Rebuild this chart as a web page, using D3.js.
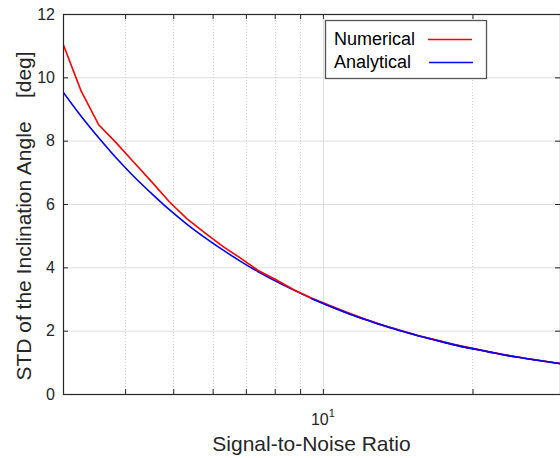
<!DOCTYPE html>
<html>
<head>
<meta charset="utf-8">
<script src="https://cdn.jsdelivr.net/npm/d3@7"></script>
<style>
	body { margin: 0; background: #fff; }
	svg { display: block; font-family: "Liberation Sans", Arial, sans-serif; }
</style>
</head>
<body>
<div id="chart"></div>
<script>
// signal-to-noise ratio samples (log spaced, 3 .. 30)
var snr = [3.00, 3.26, 3.54, 3.84, 4.17, 4.53, 4.91, 5.33, 5.79, 6.29, 6.83, 7.41, 8.05, 8.74, 9.48,
	10.30, 11.18, 12.14, 13.18, 14.31, 15.53, 16.86, 18.31, 19.88, 21.58, 23.43, 25.44, 27.62, 30.00];
var numerical = [11.06, 9.58, 8.50, 7.93, 7.31, 6.69, 6.07, 5.53, 5.09, 4.66, 4.29, 3.90, 3.61, 3.29, 3.03,
	2.80, 2.58, 2.37, 2.18, 2.01, 1.85, 1.71, 1.57, 1.45, 1.33, 1.23, 1.13, 1.05, 0.96];
var analytical = [9.54, 8.78, 8.09, 7.45, 6.86, 6.32, 5.82, 5.36, 4.94, 4.55, 4.19, 3.86, 3.56, 3.28, 3.02,
	2.78, 2.56, 2.36, 2.17, 2.00, 1.84, 1.70, 1.56, 1.44, 1.33, 1.22, 1.13, 1.04, 0.96];
var xTicks = [4, 5, 6, 7, 8, 9, 10, 20, 30];
var xGridMinor = [4, 5, 6, 7, 8, 9, 20];
var yTicks = [0, 2, 4, 6, 8, 10, 12];
var seriesNames = ["Numerical", "Analytical"];
var seriesColors = ["#ff0000", "#0000ff"];

var W = 560, H = 458;
var m = {left: 63, right: 560, top: 14, bottom: 394};
var axisColor = "#262626", gridColor = "#dfdfdf";

var svg = d3.select("#chart").append("svg").attr("width", W).attr("height", H);

var x = d3.scaleLog().domain([3, 30]).range([m.left, m.right]);
var y = d3.scaleLinear().domain([0, 12]).range([m.bottom, m.top]);

var defs = svg.append("defs");
defs.append("clipPath").attr("id", "plotClip").append("rect")
		.attr("x", m.left).attr("y", m.top)
		.attr("width", m.right - m.left).attr("height", m.bottom - m.top);

// grid
var grid = svg.append("g").attr("class", "grid");
grid.selectAll("line.ygrid").data(yTicks.slice(1, -1)).enter().append("line")
		.attr("class", "ygrid")
		.attr("x1", m.left).attr("x2", m.right)
		.attr("y1", function(d) { return y(d) + 0.5; })
		.attr("y2", function(d) { return y(d) + 0.5; })
		.style("stroke", gridColor).style("stroke-width", 1);
grid.selectAll("line.xminor").data(xGridMinor).enter().append("line")
		.attr("class", "xminor")
		.attr("x1", function(d) { return Math.round(x(d)) + 0.5; })
		.attr("x2", function(d) { return Math.round(x(d)) + 0.5; })
		.attr("y1", m.top).attr("y2", m.bottom)
		.style("stroke", "#d4d4d4").style("stroke-width", 1)
		.style("stroke-dasharray", "1,2");
grid.append("line")
		.attr("x1", Math.round(x(10)) + 0.5).attr("x2", Math.round(x(10)) + 0.5)
		.attr("y1", m.top).attr("y2", m.bottom)
		.style("stroke", gridColor).style("stroke-width", 1);

// curves
var line = d3.line()
		.x(function(d) { return x(d[0]); })
		.y(function(d) { return y(d[1]); });
var plot = svg.append("g").attr("clip-path", "url(#plotClip)");
plot.append("path")
		.datum(d3.zip(snr, analytical))
		.attr("d", line.curve(d3.curveMonotoneX))
		.style("fill", "none").style("stroke", seriesColors[1]).style("stroke-width", 1.6);
plot.append("path")
		.datum(d3.zip(snr, numerical))
		.attr("d", line.curve(d3.curveLinear))
		.style("fill", "none").style("stroke", seriesColors[0]).style("stroke-width", 1.6);
// redraw blue on top where they overlap
plot.append("path")
		.datum(d3.zip(snr, analytical).filter(function(d) { return d[0] > 9; }))
		.attr("d", line.curve(d3.curveMonotoneX))
		.style("fill", "none").style("stroke", seriesColors[1]).style("stroke-width", 1.6);

// axes
function styleAxis(g) {
	g.select(".domain").remove();
	g.selectAll(".tick line").style("stroke", axisColor);
	g.selectAll(".tick text").style("fill", axisColor).style("font-size", "16px")
			.style("font-family", "'Liberation Sans', Arial, sans-serif");
}

svg.append("g").attr("transform", "translate(0," + m.bottom + ")")
		.call(d3.axisBottom(x).tickValues(xTicks).tickSize(-5).tickFormat(""))
		.call(styleAxis);
svg.append("g").attr("transform", "translate(0," + m.top + ")")
		.call(d3.axisTop(x).tickValues(xTicks).tickSize(-5).tickFormat(""))
		.call(styleAxis);
svg.append("g").attr("transform", "translate(" + m.left + ",0)")
		.call(d3.axisLeft(y).tickValues(yTicks).tickSize(-5).tickPadding(8))
		.call(styleAxis);
svg.append("g").attr("transform", "translate(" + m.right + ",0)")
		.call(d3.axisRight(y).tickValues(yTicks).tickSize(-5).tickFormat(""))
		.call(styleAxis);

svg.append("rect")
		.attr("x", m.left + 0.5).attr("y", m.top + 0.5)
		.attr("width", m.right - m.left).attr("height", m.bottom - m.top)
		.style("fill", "none").style("stroke", axisColor).style("stroke-width", 1.2);

// 10^1 label
var decade = svg.append("text")
		.attr("x", x(10)).attr("y", m.bottom + 31)
		.attr("text-anchor", "middle")
		.style("font-size", "16px").style("fill", axisColor);
decade.append("tspan").text("10");
decade.append("tspan").attr("dy", -8).style("font-size", "11px").text("1");

// axis titles
svg.append("text")
		.attr("x", (m.left + m.right) / 2).attr("y", 451)
		.attr("text-anchor", "middle")
		.style("font-size", "21px").style("fill", axisColor)
		.text("Signal-to-Noise Ratio");
svg.append("text")
		.attr("transform", "translate(31," + ((m.top + m.bottom) / 2 + 12) + ") rotate(-90)")
		.attr("text-anchor", "middle")
		.style("font-size", "21px").style("fill", axisColor)
		.style("white-space", "pre")
		.text("STD of the Inclination Angle    [deg]");

// legend
var legend = svg.append("g").attr("class", "legend");
legend.append("rect")
		.attr("x", 325.5).attr("y", 20.5).attr("width", 161).attr("height", 58)
		.style("fill", "#fff").style("stroke", "#555").style("stroke-width", 1.3);
seriesNames.forEach(function(name, i) {
	legend.append("text")
			.attr("x", 334).attr("y", 44.5 + i * 23)
			.style("font-size", "18px").style("fill", "#000")
			.text(name);
	legend.append("line")
			.attr("x1", 428 + i).attr("x2", 472 + i)
			.attr("y1", 39.5 + i * 23).attr("y2", 39.5 + i * 23)
			.style("stroke", seriesColors[i]).style("stroke-width", 1.6);
});
</script>
</body>
</html>
